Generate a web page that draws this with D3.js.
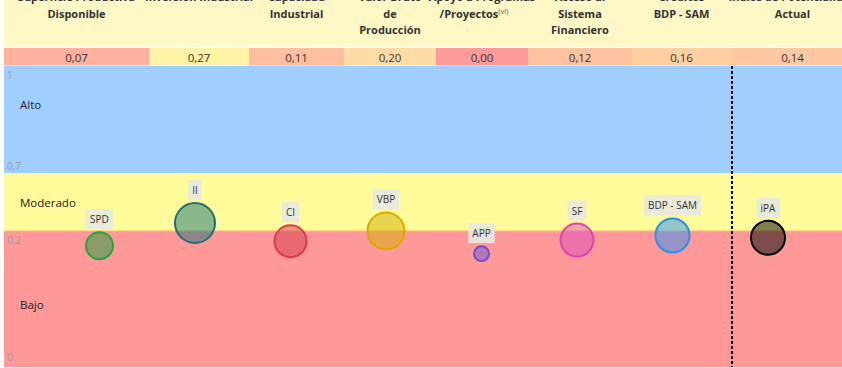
<!DOCTYPE html>
<html>
<head>
<meta charset="utf-8">
<script src="https://cdn.jsdelivr.net/npm/d3@7"></script>
<style>
  html, body { margin: 0; padding: 0; background: #ffffff; }
  svg { display: block; font-family: "Open Sans", "Noto Sans", sans-serif; }
</style>
</head>
<body>
<svg id="chart" width="842" height="368"></svg>
<script>
// ---------- DATA ----------
const categories = ["SPD", "II", "CI", "VBP", "APP", "SF", "BDP - SAM", "iPA"];
const headerLines = [
  ["Superficie Productiva", "Disponible"],
  ["Inversión Industrial"],
  ["Capacidad", "Industrial"],
  ["Valor Bruto", "de", "Producción"],
  ["Apoyo a Programas", "/Proyectos"],
  ["Acceso al", "Sistema", "Financiero"],
  ["Créditos", "BDP - SAM"],
  ["Índice de Potencialidad", "Actual"]
];
const values = [0.07, 0.27, 0.11, 0.20, 0.00, 0.12, 0.16, 0.14];
const valueLabels = ["0,07", "0,27", "0,11", "0,20", "0,00", "0,12", "0,16", "0,14"];
const bubbleSize = [210, 441, 289, 380, 72, 306, 324, 324];
const bubbleColors = ["#17a03c", "#16757c", "#d2394e", "#d4b000", "#6a55e0", "#db4cbb", "#2a90f5", "#000000"];
const bubbleStrokes = ["#22a83a", "#1d6f7a", "#d83a4f", "#d9aa00", "#6a4fd0", "#e040b0", "#2d8fe8", "#000000"];
const bandNames = ["Alto", "Moderado", "Bajo"];
const bandBounds = [[0.7, 1], [0.2, 0.7], [0, 0.2]];
const bandColors = ["#a0cfff", "#fffb9a", "#ff9999"];
const tickValues = [1, 0.7, 0.2, 0];
const tickLabels = ["1", "0,7", "0,2", "0"];

// ---------- LAYOUT ----------
const W = 842, H = 368;
const left = 4, plotTop = 66, plotBottom = 367;
const colEdges = [4, 149, 249, 344, 436, 528, 632, 731, 854];

const svg = d3.select("#chart");

const yBand = d3.scaleLinear().domain([0, 0.2, 0.7, 1]).range([plotBottom, 231, 173, plotTop]);
const yVal = d3.scaleLinear().domain([-1, 1.655]).range([plotBottom, plotTop]);
const x = d3.scalePoint().domain(categories).range([99.5, 768]);
const r = d3.scaleSqrt().domain([0, d3.max(bubbleSize)]).range([0, 21]);
const cellColor = d3.scaleLinear().domain([0, 0.27]).range(["#ff9a9a", "#fff3a6"]);

// ---------- HEADER ----------
svg.append("rect").attr("x", left).attr("y", 0).attr("width", W - left).attr("height", 46.5).attr("fill", "#fff7c6");

const lineY = [1, 17.5, 33.5];
const hdr = svg.append("g");
headerLines.forEach((lines, i) => {
  const cx = (colEdges[i] + colEdges[i + 1]) / 2;
  const t = hdr.append("text")
    .attr("x", cx).attr("text-anchor", "middle")
    .attr("font-size", 11).attr("font-weight", "bold").attr("fill", "#333");
  lines.forEach((ln, j) => {
    const ts = t.append("tspan").attr("x", cx).attr("y", lineY[j]).text(ln);
    if (i === 4 && j === 1) {
      ts.attr("dx", -8);
      t.append("tspan").attr("dy", -4).attr("font-size", 7.5).attr("font-weight", "normal").attr("fill", "#555").text("(vi)");
    }
  });
});

const vrow = svg.append("g");
values.forEach((v, i) => {
  vrow.append("rect")
    .attr("x", colEdges[i]).attr("y", 48)
    .attr("width", colEdges[i + 1] - colEdges[i]).attr("height", 17.5)
    .attr("fill", cellColor(v));
  vrow.append("text")
    .attr("x", (colEdges[i] + colEdges[i + 1]) / 2).attr("y", 61.5)
    .attr("text-anchor", "middle").attr("font-size", 11.5).attr("fill", "#333")
    .text(valueLabels[i]);
});

// ---------- BANDS ----------
const bands = svg.append("g");
bandBounds.forEach((b, i) => {
  bands.append("rect")
    .attr("x", left).attr("y", yBand(b[1]))
    .attr("width", W - left).attr("height", yBand(b[0]) - yBand(b[1]))
    .attr("fill", bandColors[i]);
});
bands.append("line").attr("x1", left).attr("x2", W)
  .attr("y1", yBand(0.2)).attr("y2", yBand(0.2))
  .attr("stroke", "#ffb870").attr("stroke-width", 1);

const bandLabelY = [yBand(1) + 43, yBand(0.7) + 34, yBand(0.2) + 78];
bandNames.forEach((n, i) => {
  bands.append("text").attr("x", 20).attr("y", bandLabelY[i])
    .attr("font-size", 11.5).attr("fill", "#222").text(n);
});

const tickDy = [13, -3, 13, -6];
tickValues.forEach((t, i) => {
  bands.append("text").attr("x", 7).attr("y", yBand(t) + tickDy[i])
    .attr("font-size", 10).attr("fill", "#9a9a9a").text(tickLabels[i]);
});

const refX = colEdges[7] + 1;
svg.append("line")
  .attr("x1", refX).attr("x2", refX)
  .attr("y1", plotTop).attr("y2", plotBottom)
  .attr("stroke", "#000").attr("stroke-width", 2).attr("stroke-dasharray", "3,2");

// ---------- BUBBLES ----------
const g = svg.append("g");
categories.forEach((c, i) => {
  const cx = x(c), cy = yVal(values[i]), rr = r(bubbleSize[i]);
  g.append("circle")
    .attr("cx", cx).attr("cy", cy).attr("r", rr - 1)
    .attr("fill", bubbleColors[i]).attr("fill-opacity", 0.5)
    .attr("stroke", bubbleStrokes[i]).attr("stroke-width", 2);
});
categories.forEach((c, i) => {
  const cx = x(c), cy = yVal(values[i]), rr = r(bubbleSize[i]);
  const lg = g.append("g");
  const txt = lg.append("text")
    .attr("x", cx).attr("y", cy - rr - 8)
    .attr("text-anchor", "middle").attr("font-size", 10).attr("fill", "#333")
    .text(c);
  const bb = txt.node().getBBox();
  lg.insert("rect", "text")
    .attr("x", bb.x - 4).attr("y", cy - rr - 22)
    .attr("width", bb.width + 8).attr("height", 20)
    .attr("fill", "#e8e8e0").attr("fill-opacity", 0.92);
});
</script>
</body>
</html>
